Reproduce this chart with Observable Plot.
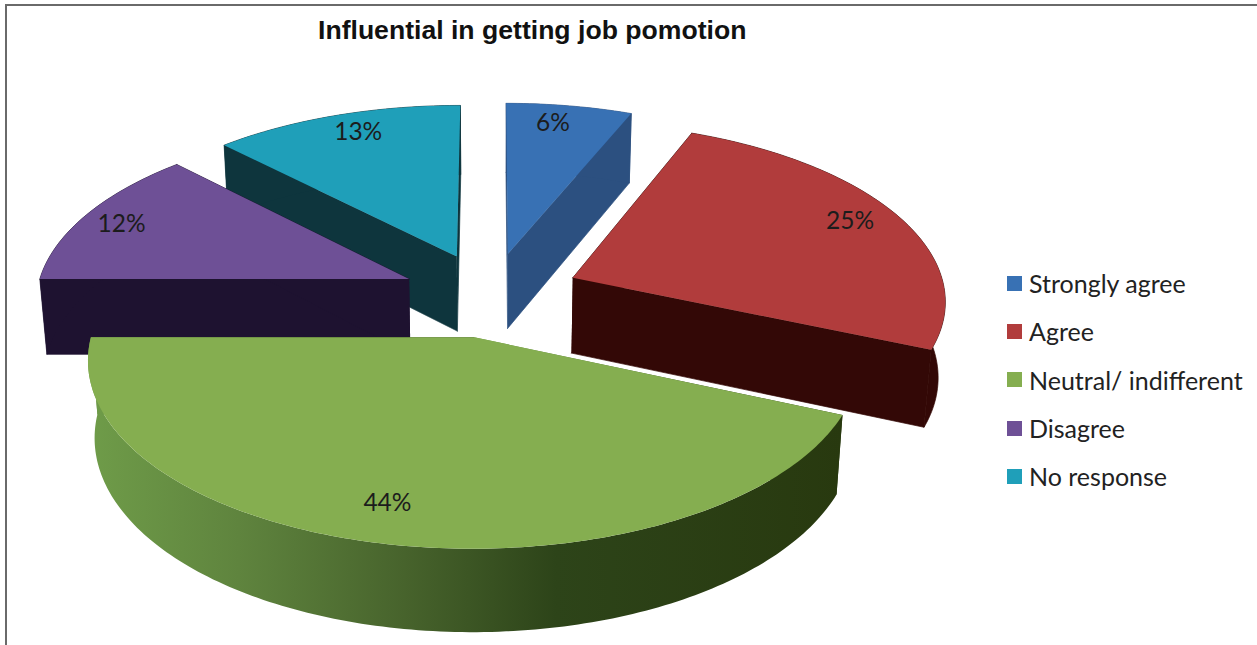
<!DOCTYPE html>
<html>
<head>
<meta charset="utf-8">
<script src="https://cdn.jsdelivr.net/npm/d3@7"></script>
<script src="https://cdn.jsdelivr.net/npm/@observablehq/plot@0.6"></script>
<style>
  html, body { margin: 0; padding: 0; background: #fff; overflow: hidden; }
  #chart { position: relative; width: 1257px; height: 645px; overflow: hidden; }
  #chart svg { position: absolute; left: 0; top: 0; display: block; }
  #frame { position: absolute; left: 5px; top: 4px; right: -4px; bottom: -4px; border: 2px solid #6a6a6a; }
  #title { position: absolute; left: 318px; top: 15px; font: bold 26.6px "Liberation Sans", Arial, sans-serif; color: #111; white-space: nowrap; }
  #legend { position: absolute; left: 1007px; top: 259px; font: 25px Lato, "Open Sans", sans-serif; color: #222; }
  #legend div { height: 48.3px; display: flex; align-items: center; white-space: nowrap; }
  #legend i { width: 15px; height: 15px; margin-right: 7px; display: inline-block; }
</style>
</head>
<body>
<div id="chart">
  <div id="frame"></div>
  <div id="title">Influential in getting job pomotion</div>
  <div id="legend"></div>
</div>
<script>
// Survey shares, clockwise from twelve o'clock
const categories = ["Strongly agree", "Agree", "Neutral/ indifferent", "Disagree", "No response"];
const shares = [6, 25, 44, 12, 13];
const topColors = ["#3871b4", "#b13c3c", "#85ae50", "#6e5096", "#1f9fb9"];
const sideColors = ["#2c5080", "#330806", "url(#green-wall)", "#1e1230", "#0e353d"];
const greenStops = [[0, "#6f9c49"], [0.2, "#5f843e"], [0.42, "#47632c"], [0.62, "#2d4419"], [1, "#28390f"]];

// Tilted-disc view: pie units to page pixels, nearer points drawn larger
const view = { cx: 491, cy: 294, ax: 373, ay: 176.6, persp: 0.1146, drop: 77, shrink: 0.016, explode: 0.24 };
const width = 1257, height = 645;
const rad = (d) => (d * Math.PI) / 180;

// The 3D view skews directions on the disc by a small angle, in degrees
const angleSkew = d3.scaleLinear().domain([0, 21.6, 111.6, 270, 313.2, 360]).range([0, 0.7, 1.8, 0, 2.5, 0]);
const viewAngle = (deg) => rad(deg + angleSkew(deg));

function project(X, Y, lower) {
  const w = 1 + view.persp * Y + (lower ? view.shrink : 0);
  return {
    px: view.cx + (view.ax * X) / w,
    py: view.cy + (-view.ay * Y + (lower ? view.drop : 0)) / w
  };
}

// Angular extents of the slices
let running = 0;
const slices = categories.map((category, i) => {
  const a0 = running * 3.6;
  running += shares[i];
  const a1 = running * 3.6, mid = (a0 + a1) / 2;
  return { category, i, a0, a1, mid, ox: view.explode * Math.sin(rad(mid)), oy: view.explode * Math.cos(rad(mid)) };
});

function rimPoints(s, lower) {
  const n = Math.max(4, Math.ceil(s.a1 - s.a0));
  return d3.range(n + 1).map((k) => {
    const a = viewAngle(s.a0 + ((s.a1 - s.a0) * k) / n);
    return project(s.ox + Math.sin(a), s.oy + Math.cos(a), lower);
  });
}

const topFace = (s) => [project(s.ox, s.oy, false), ...rimPoints(s, false)].map((p) => ({ ...p, category: s.category }));

function wallFaces(s) {
  const tip = project(s.ox, s.oy, false), tipLow = project(s.ox, s.oy, true);
  const up = rimPoints(s, false), low = rimPoints(s, true);
  const tag = (face, pts) => pts.map((p) => ({ ...p, face }));
  return [
    ...tag("start", [tip, up[0], low[0], tipLow]),
    ...tag("end", [tip, up[up.length - 1], low[low.length - 1], tipLow]),
    ...tag("rim", [...up, ...low.slice().reverse()])
  ];
}

// Percentage labels sit on each slice's top face
const labelRadius = [0.87, 0.86, 0.83, 0.88, 0.86];
const labelTurn = [-1.5, 0, 3.2, 0.4, 2.7];
const labels = slices.map((s) => {
  const a = rad(s.mid + labelTurn[s.i]), r = labelRadius[s.i];
  return { ...project(s.ox + r * Math.sin(a), s.oy + r * Math.cos(a), false), text: shares[s.i] + "%" };
});

function gradientDefs() {
  const defs = d3.create("svg:defs");
  const g = defs.append("linearGradient").attr("id", "green-wall").attr("x1", 0).attr("x2", 1).attr("y1", 0).attr("y2", 0);
  greenStops.forEach(([o, c]) => g.append("stop").attr("offset", o).attr("stop-color", c));
  return defs.node();
}

// Painted back to front so nearer slices cover farther ones
const paintOrder = [4, 0, 3, 1, 2];
const sliceMarks = paintOrder.flatMap((i) => [
  Plot.line(wallFaces(slices[i]), { x: "px", y: "py", z: "face", fill: sideColors[i], stroke: i === 2 ? "none" : sideColors[i], strokeWidth: 0.7 }),
  Plot.line(topFace(slices[i]), { x: "px", y: "py", fill: "category", stroke: "none" })
]);

const svg = Plot.plot({
  width, height,
  margin: 0,
  style: { background: "transparent" },
  x: { domain: [0, width], range: [0, width], axis: null },
  y: { domain: [0, height], range: [0, height], axis: null },
  color: { domain: categories, range: topColors },
  marks: [
    gradientDefs,
    ...sliceMarks,
    Plot.text(labels, { x: "px", y: "py", text: "text", fontSize: 24.5, fontFamily: "Lato, 'Open Sans', sans-serif", fill: "#1c1c1c" })
  ]
});
document.getElementById("chart").prepend(svg);

const legend = document.getElementById("legend");
categories.forEach((c, i) => {
  const row = document.createElement("div");
  const swatch = document.createElement("i");
  swatch.style.background = topColors[i];
  row.append(swatch, c);
  legend.append(row);
});
</script>
</body>
</html>
